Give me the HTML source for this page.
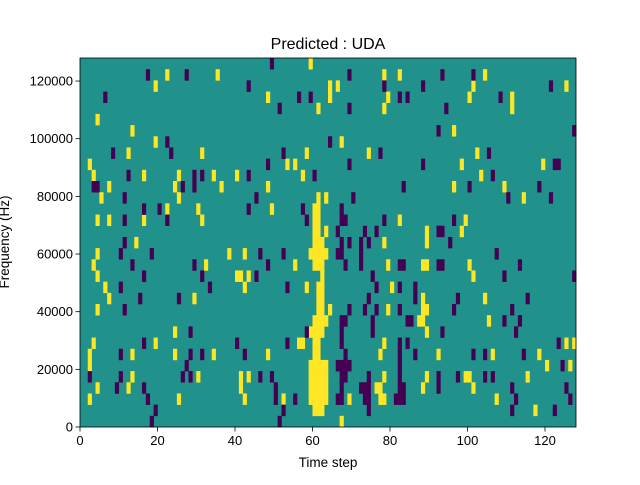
<!DOCTYPE html>
<html><head><meta charset="utf-8"><style>
html,body{margin:0;padding:0;background:#fff;}
svg text{font-family:"Liberation Sans","DejaVu Sans",sans-serif;fill:#000;}
</style></head><body>
<svg id="chart" width="640" height="480" viewBox="0 0 640 480" xmlns="http://www.w3.org/2000/svg">
<rect x="0" y="0" width="640" height="480" fill="#fff"/>
<g id="cells"></g>
<g id="axes"></g>
<text x="328" y="49" font-size="16" text-anchor="middle">Predicted : UDA</text>
<text x="328" y="467" font-size="13.5" text-anchor="middle">Time step</text>
<text x="0" y="0" font-size="13.5" text-anchor="middle" transform="translate(9,242) rotate(-90)">Frequency (Hz)</text>
</svg>
<script>
const nTime = 128;
const nBins = 33;
const freqMax = 128000;
const xTicks = [0, 20, 40, 60, 80, 100, 120];
const yTicks = [0, 20000, 40000, 60000, 80000, 100000, 120000];
// rows listed from top (highest frequency bin) to bottom; Y = value +1, P = value -1
const highCols = [
[59],[22,35,78,82,104],[19,64,66,101,125],[48,64,79,100,111],[61,78,111],[4],[13,96],[19,67],
[12,31,58,74,102],[2,53,55,98,119],[3,16,25,34,40,57,103],[7,24,36,48,96,109],[5,25,61,63,114],
[22,30,49,60,61],[4,7,16,31,60,61,82,99],[60,61,63,89,98],[14,60,61,62,78,89],[4,38,42,59,60,61,62,63],
[3,32,55,60,61,62,79,88,89,100],[4,40,41,43,62,101],[6,42,58,61,62,80],[7,29,61,62,88,104],
[4,61,62,64,79,88,89],[60,61,62,63,87,88,105],[24,59,60,61,62,89],[3,19,56,57,60,61,78,125,127],
[2,13,24,34,48,60,61,77,92,106,118],[2,59,60,61,62,63,120,126],
[13,30,41,43,59,60,61,62,63,78,89,99,100,115],[4,12,41,59,60,61,62,63,76,77,88,101],
[2,25,42,52,59,60,61,62,63,69,77,78,107],[60,61,62,117],[67]
];
const lowCols = [
[49],[17,27,69,93,101],[43,78,88,121],[6,56,59,82,84,108],[51,69,94],[],[92,127],[22,64],
[8,23,52,77,105],[48,69,88,122,123],[12,29,31,43,60,106],[3,4,26,29,83,100,118],[11,45,70,110,121],
[16,20,43,57,67],[11,22,58,67,68,78,96],[66,73,76,92,93],[11,67,69,72,74,95],[10,18,46,52,66,67,72,107],
[13,29,48,68,72,82,83,92,93,113],[16,31,45,75,109,127],[10,33,53,76,82,86],[15,25,74,86,97,115],
[11,69,73,76,82,96,111],[67,68,75,84,85,109,113],[28,58,67,75,93,112],[16,40,53,67,82,84,123],
[10,28,31,42,68,82,86,101,104,114],[27,66,67,68,69,82,124],
[2,10,26,28,46,49,67,68,74,82,92,97,104,106],[9,16,50,67,72,73,74,82,83,92,111,125],
[17,50,55,66,67,73,74,81,82,83,112,126],[19,52,74,111,122],[18,51]
];
const L=80,R=576,T=58,B=427;
const xScale=t=>L+t/nTime*(R-L);
const yScale=f=>B-f/freqMax*(B-T);
const NS="http://www.w3.org/2000/svg";
const colors={"-1":"#440154","0":"#21918c","1":"#fde725"};
const cells=document.getElementById('cells');
const bg=document.createElementNS(NS,'rect');


bg.setAttribute('x',L);bg.setAttribute('y',T);bg.setAttribute('width',R-L);bg.setAttribute('height',B-T);bg.setAttribute('fill',colors["0"]);
cells.appendChild(bg);
function addCell(t,row,v){
  const bin=nBins-1-row;
  const f0=bin*freqMax/nBins, f1=(bin+1)*freqMax/nBins;
  const r=document.createElementNS(NS,'rect');
  
  
  const x0=xScale(t),x1=xScale(t+1);
  r.setAttribute('x',x0);r.setAttribute('width',x1-x0+0.3);
  r.setAttribute('y',yScale(f1));r.setAttribute('height',yScale(f0)-yScale(f1)+0.3);
  r.setAttribute('fill',colors[String(v)]);
  cells.appendChild(r);
}
highCols.forEach((cols,row)=>cols.forEach(t=>addCell(t,row,1)));
lowCols.forEach((cols,row)=>cols.forEach(t=>addCell(t,row,-1)));
const axes=document.getElementById('axes');
const frame=document.createElementNS(NS,'rect');


frame.setAttribute('x',L);frame.setAttribute('y',T);frame.setAttribute('width',R-L);frame.setAttribute('height',B-T);
frame.setAttribute('fill','none');frame.setAttribute('stroke','#000');frame.setAttribute('stroke-width','0.8');
axes.appendChild(frame);
xTicks.forEach(v=>{
  const x=xScale(v);
  const ln=document.createElementNS(NS,'line');
  
  
  ln.setAttribute('x1',x);ln.setAttribute('x2',x);ln.setAttribute('y1',B);ln.setAttribute('y2',B+4.5);ln.setAttribute('stroke','#000');ln.setAttribute('stroke-width','0.8');
  axes.appendChild(ln);
  const tx=document.createElementNS(NS,'text');
  
  
  tx.setAttribute('x',x);tx.setAttribute('y',B+18);tx.setAttribute('font-size','13');tx.setAttribute('text-anchor','middle');
  tx.textContent=v;
  axes.appendChild(tx);
});
yTicks.forEach(v=>{
  const y=yScale(v);
  const ln=document.createElementNS(NS,'line');
  
  
  ln.setAttribute('x1',L-4.5);ln.setAttribute('x2',L);ln.setAttribute('y1',y);ln.setAttribute('y2',y);ln.setAttribute('stroke','#000');ln.setAttribute('stroke-width','0.8');
  axes.appendChild(ln);
  const tx=document.createElementNS(NS,'text');
  
  
  tx.setAttribute('x',L-7);tx.setAttribute('y',y+4.5);tx.setAttribute('font-size','13');tx.setAttribute('text-anchor','end');
  tx.textContent=v;
  axes.appendChild(tx);
});
</script>
</body></html>
